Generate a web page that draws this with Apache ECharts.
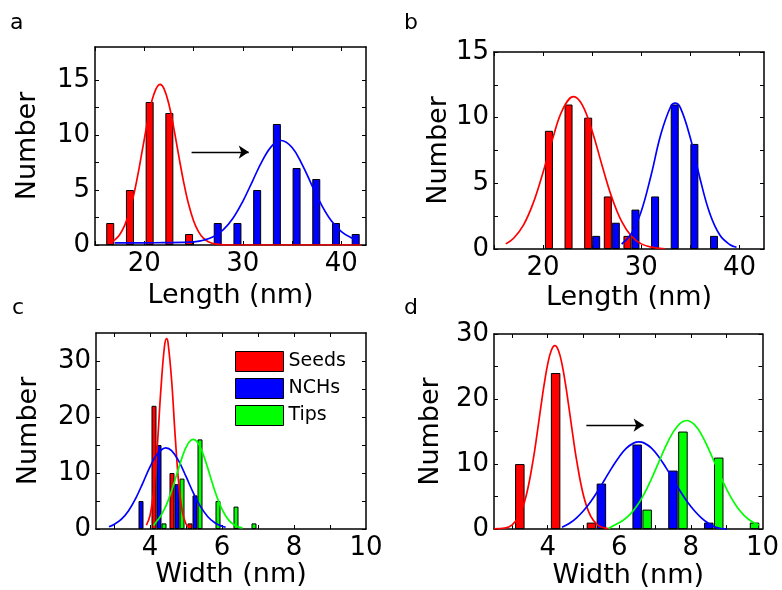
<!DOCTYPE html>
<html><head><meta charset="utf-8">
<script src="https://cdn.jsdelivr.net/npm/echarts@6/dist/echarts.min.js"></script>
<style>html,body{margin:0;padding:0;background:#fff}#chart{width:782px;height:590px}</style>
</head><body><div id="chart"></div>
<script>
// ---------- Panel a ----------
const aBins = [17,19,21,23,25,27,29,31,33,35,37,39,41];
const aSeeds = [2,5,13,12,1,0,0,0,0,0,0,0,0];
const aNCHs = [0,0,0,0,0,2,2,5,11,7,6,2,1];
const aSeedsFitX = [16.7,17,17.5,18,18.5,19,19.5,20,20.5,21,21.6,22,22.5,23,23.5,24,24.5,25,25.5,26,26.5,27,28,30,33,36,39,42];
const aSeedsFitY = [0.29,0.46,0.94,1.76,3.04,4.84,7.11,9.61,11.98,13.77,14.6,14.22,12.79,10.6,8.1,5.7,3.7,2.21,1.22,0.62,0.29,0.13,0.02,0,0,0,0,0];
const aNCHsFitX = [17,20,22,24,25,26,27,28,29,30,31,32,33,33.9,35,36,37,38,39,40,41,41.5];
const aNCHsFitY = [0.2,0.2,0.21,0.23,0.28,0.43,0.75,1.37,2.43,3.97,5.84,7.7,9.06,9.5,8.86,7.36,5.45,3.62,2.18,1.22,0.66,0.5];
const aArrow = [[24.8,8.45],[30.6,8.45]];
const aXRange = [15,42.5], aYRange = [0,18];
const aXTicks = [15,20,25,30,35,40], aXLabels = [20,30,40];
const aYTicks = [0,2.5,5,7.5,10,12.5,15], aYLabels = [0,5,10,15];

// ---------- Panel b ----------
const bBins = [21,23,25,27,29,31,33,35,37];
const bSeeds = [9,11,10,4,1,0,0,0,0];
const bNCHs = [0,0,1,2,3,4,11,8,1];
const bSeedsFitX = [16.2,17,18,19,20,21,22,23.1,24,25,26,27,28,29,30,31,32.4];
const bSeedsFitY = [0.39,0.82,1.82,3.51,5.85,8.47,10.64,11.6,10.95,8.97,6.38,3.93,2.1,0.97,0.39,0.14,0.02];
const bNCHsFitX = [28,29,30,31,32,33,33.45,34,35,36,37,38,39,39.7];
const bNCHsFitY = [0.38,1.18,2.88,5.62,8.75,10.85,11.1,10.73,8.45,5.31,2.66,1.06,0.34,0.13];
const bXRange = [15,42.5], bYRange = [0,15];
const bXTicks = [15,20,25,30,35,40], bXLabels = [20,30,40];
const bYTicks = [0,2.5,5,7.5,10,12.5,15], bYLabels = [0,5,10,15];

// ---------- Panel c ----------
const cBins = [3.75,4.25,4.75,5.25,5.75,6.25,6.75];
const cSeeds = [0,22,10,1,0,0,0];
const cNCHs = [5,15,8,6,0,0,0];
const cTips = [0,1,9,16,5,4,1];
const cSeedsFitX = [3.9,4.0,4.1,4.2,4.3,4.4,4.46,4.5,4.6,4.7,4.8,4.9,5.0,5.1];
const cSeedsFitY = [0.67,2.41,6.73,14.6,24.7,32.5,34,33.3,26.6,16.55,8.01,3.02,0.89,0.2];
const cNCHsFitX = [2.86,3.0,3.2,3.4,3.6,3.8,4.0,4.2,4.44,4.6,4.8,5.0,5.2,5.4,5.6,5.8,6.0,6.1];
const cNCHsFitY = [0.4,0.81,1.71,3.23,5.44,8.21,11.08,13.38,14.5,13.99,12.11,9.38,6.5,4.03,2.24,1.11,0.49,0.32];
const cTipsFitX = [4.1,4.2,4.3,4.4,4.5,4.6,4.7,4.8,4.9,5.0,5.1,5.2,5.3,5.4,5.5,5.6,5.7,5.8,5.9,6.0,6.1,6.2,6.3,6.4,6.5,6.57];
const cTipsFitY = [0.6,1.5,2.36,3.53,5.03,6.83,8.86,10.96,12.93,14.56,15.63,16,15.63,14.56,12.93,10.96,8.86,6.83,5.03,3.53,2.36,1.5,0.92,0.53,0.29,0.2];
const cXRange = [2.5,10], cYRange = [0,35];
const cXTicks = [3,4,5,6,7,8,9], cXLabels = [4,6,8,10];
const cYTicks = [0,5,10,15,20,25,30], cYLabels = [0,10,20,30];

// ---------- Panel d ----------
const dBins = [3.5,4.5,5.5,6.5,7.5,8.5,9.5];
const dSeeds = [10,24,1,0,0,0,0];
const dNCHs = [0,0,7,13,9,1,0];
const dTips = [0,0,0,3,15,11,1];
const dSeedsFitX = [2.5,2.8,3.0,3.2,3.4,3.6,3.7,3.8,3.9,4.0,4.1,4.2,4.3,4.4,4.5,4.6,4.7,4.8,5.0,5.2,5.4,5.6,5.7];
const dSeedsFitY = [0.05,0.16,0.62,1.98,5.16,10.84,14.52,18.44,22.2,25.36,27.46,28.2,27.46,25.36,22.2,18.44,14.52,10.84,5.16,1.98,0.62,0.16,0.08];
const dNCHsFitX = [4.4,4.6,4.8,5.0,5.2,5.4,5.6,5.8,6.0,6.2,6.4,6.55,6.7,6.9,7.1,7.3,7.5,7.7,7.9,8.1,8.3,8.5,8.7,8.9,9.0];
const dNCHsFitY = [0.27,0.86,1.7,2.82,4.22,5.86,7.67,9.49,11.14,12.44,13.22,13.4,13.22,12.44,11.14,9.49,7.67,5.86,4.22,2.82,1.7,0.86,0.27,0.05,0];
const dTipsFitX = [5.7,5.9,6.1,6.3,6.5,6.7,6.9,7.1,7.3,7.5,7.7,7.88,8.1,8.3,8.5,8.7,8.9,9.1,9.3,9.5,9.7,9.9];
const dTipsFitY = [0.1,0.72,1.32,2.26,3.63,5.47,7.74,10.26,12.75,14.87,16.27,16.7,16.07,14.5,12.27,9.74,7.25,5.07,3.32,2.04,1.17,0.64];
const dArrow = [[5.08,16.0],[6.68,16.0]];
const dXRange = [2.5,10], dYRange = [0,30];
const dXTicks = [3,4,5,6,7,8,9], dXLabels = [4,6,8,10];
const dYTicks = [0,5,10,15,20,25,30], dYLabels = [0,10,20,30];

const seriesNames = ['Seeds','NCHs','Tips'];
const colors = {Seeds:'#ff0000', NCHs:'#0000ff', Tips:'#00ff00'};
const FONT = 'DejaVu Sans';

const panels = [
  {letter:'a', letterPos:[10,12], grid:{left:95,top:47,width:271,height:198},
   xr:aXRange, yr:aYRange, xt:aXTicks, xl:aXLabels, yt:aYTicks, yl:aYLabels,
   xName:'Length (nm)', xGap:37, yGap:54, barWidth:8, barGap:'12%',
   bins:aBins, bars:[aSeeds,aNCHs], fits:[[aSeedsFitX,aSeedsFitY],[aNCHsFitX,aNCHsFitY]], arrow:aArrow},
  {letter:'b', letterPos:[404,12], grid:{left:494,top:52,width:270,height:197},
   xr:bXRange, yr:bYRange, xt:bXTicks, xl:bXLabels, yt:bYTicks, yl:bYLabels,
   xName:'Length (nm)', xGap:35, yGap:42, barWidth:8, barGap:'0%',
   bins:bBins, bars:[bSeeds,bNCHs], fits:[[bSeedsFitX,bSeedsFitY],[bNCHsFitX,bNCHsFitY]]},
  {letter:'c', letterPos:[12,297], grid:{left:96,top:333,width:270,height:196},
   xr:cXRange, yr:cYRange, xt:cXTicks, xl:cXLabels, yt:cYTicks, yl:cYLabels,
   xName:'Width (nm)', xGap:30, yGap:54, barWidth:5, barGap:'0%',
   bins:cBins, bars:[cSeeds,cNCHs,cTips], fits:[[cSeedsFitX,cSeedsFitY],[cNCHsFitX,cNCHsFitY],[cTipsFitX,cTipsFitY]]},
  {letter:'d', letterPos:[404,297], grid:{left:494,top:334,width:270,height:197},
   xr:dXRange, yr:dYRange, xt:dXTicks, xl:dXLabels, yt:dYTicks, yl:dYLabels,
   xName:'Width (nm)', xGap:29, yGap:50, barWidth:9.5, barGap:'5%',
   bins:dBins, bars:[dSeeds,dNCHs,dTips], fits:[[dSeedsFitX,dSeedsFitY],[dNCHsFitX,dNCHsFitY],[dTipsFitX,dTipsFitY]], arrow:dArrow}
];

const grids = [], xAxes = [], yAxes = [], series = [], titles = [];
const lineStyleAxis = {color:'#000', width:1.5};
panels.forEach((p, i) => {
  grids.push(Object.assign({containLabel:false}, p.grid));
  titles.push({text:p.letter, left:p.letterPos[0], top:p.letterPos[1], padding:0,
    textStyle:{fontSize:22, fontWeight:'normal', color:'#000', fontFamily:FONT}});
  [false, true].forEach(mirror => {
    xAxes.push({type:'value', gridIndex:i, position: mirror ? 'top' : 'bottom',
      min:p.xr[0], max:p.xr[1],
      axisLine:{show:true, onZero:false, lineStyle:lineStyleAxis},
      axisTick:{show:true, inside:true, length:4, customValues:p.xt, lineStyle:{color:'#000', width:1}},
      axisLabel:{show:!mirror, customValues:p.xl, margin:6, color:'#000', fontSize:26, fontFamily:FONT},
      splitLine:{show:false},
      name: mirror ? '' : p.xName, nameLocation:'middle', nameGap:p.xGap,
      nameTextStyle:{fontSize:27, color:'#000', fontFamily:FONT}});
    yAxes.push({type:'value', gridIndex:i, position: mirror ? 'right' : 'left',
      min:p.yr[0], max:p.yr[1],
      axisLine:{show:true, onZero:false, lineStyle:lineStyleAxis},
      axisTick:{show:true, inside:true, length:4, customValues:p.yt, lineStyle:{color:'#000', width:1}},
      axisLabel:{show:!mirror, customValues:p.yl, margin:5, color:'#000', fontSize:26, fontFamily:FONT},
      splitLine:{show:false},
      name: mirror ? '' : 'Number', nameLocation:'middle', nameGap:p.yGap, nameRotate:90,
      nameTextStyle:{fontSize:27, color:'#000', fontFamily:FONT}});
  });
  const xi = 2*i, yi = 2*i;
  p.bars.forEach((vals, k) => {
    const nm = seriesNames[k];
    series.push({type:'bar', name:nm, xAxisIndex:xi, yAxisIndex:yi,
      barWidth:p.barWidth, barGap:p.barGap,
      itemStyle:{color:colors[nm], borderColor:'#000', borderWidth:1},
      data: p.bins.map((b, j) => vals[j] ? [b, vals[j]] : null).filter(d => d),
      animation:false, z:2});
  });
  p.fits.forEach((f, k) => {
    const nm = seriesNames[k];
    const s = {type:'line', name:nm + ' fit ' + p.letter, xAxisIndex:xi, yAxisIndex:yi,
      smooth:0.4, showSymbol:false, symbol:'none',
      lineStyle:{color:colors[nm], width:1.7}, itemStyle:{color:colors[nm]},
      data: f[0].map((x, j) => [x, f[1][j]]), animation:false, z:3};
    if (k === 0 && p.arrow) {
      s.markLine = {silent:true, symbol:['none','arrow'], symbolSize:10, animation:false,
        lineStyle:{color:'#000', width:1.3, type:'solid'}, label:{show:false},
        emphasis:{disabled:true},
        data:[[{coord:p.arrow[0]}, {coord:p.arrow[1]}]]};
    }
    series.push(s);
  });
});

const chart = echarts.init(document.getElementById('chart'), null, {renderer:'canvas', width:782, height:590});
chart.setOption({
  animation:false,
  backgroundColor:'#fff',
  textStyle:{fontFamily:FONT},
  title:titles,
  grid:grids,
  xAxis:xAxes,
  yAxis:yAxes,
  legend:{data:seriesNames, orient:'vertical', left:235, top:351, itemWidth:48, itemHeight:20, itemGap:6,
    icon:'rect', selectedMode:false, padding:0,
    itemStyle:{borderColor:'#000', borderWidth:1},
    textStyle:{fontSize:19, color:'#000', fontFamily:FONT}},
  series:series
});
</script></body></html>
